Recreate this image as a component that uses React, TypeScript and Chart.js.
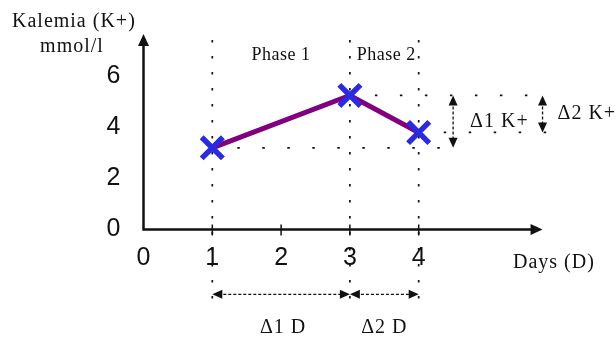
import React, { useEffect, useRef } from "react";
import { Chart, registerables } from "chart.js";

Chart.register(...registerables);

// ---- data ----
const days = [1, 3, 4];
const kalemia = [3.2, 5.25, 3.8];
const xTickValues = [0, 1, 2, 3, 4];
const yTickValues = [0, 2, 4, 6];
const phaseLabels = ["Phase 1", "Phase 2"];
const deltaKLabels = ["Δ1 K+", "Δ2 K+"];
const deltaDLabels = ["Δ1 D", "Δ2 D"];
const yAxisTitle = ["Kalemia (K+)", "mmol/l"];
const xAxisTitle = "Days (D)";

const SERIF = "'Liberation Serif', 'Times New Roman', serif";
const SANS = "'Liberation Sans', Arial, sans-serif";

function arrowHead(ctx: CanvasRenderingContext2D, x: number, y: number, dx: number, dy: number, len: number, half: number) {
  const bx = x - dx * len;
  const by = y - dy * len;
  const px = -dy;
  const py = dx;
  ctx.beginPath();
  ctx.moveTo(x, y);
  ctx.lineTo(bx + px * half, by + py * half);
  ctx.lineTo(bx - px * half, by - py * half);
  ctx.closePath();
  ctx.fill();
}

function dashedLine(ctx: CanvasRenderingContext2D, x1: number, y1: number, x2: number, y2: number, dash: number[], width: number) {
  ctx.save();
  ctx.setLineDash(dash);
  ctx.lineWidth = width;
  ctx.beginPath();
  ctx.moveTo(x1, y1);
  ctx.lineTo(x2, y2);
  ctx.stroke();
  ctx.restore();
}

function doubleArrow(ctx: CanvasRenderingContext2D, x1: number, y1: number, x2: number, y2: number) {
  const L = Math.hypot(x2 - x1, y2 - y1);
  const dx = (x2 - x1) / L;
  const dy = (y2 - y1) / L;
  const head = 10;
  dashedLine(ctx, x1 + dx * head * 0.6, y1 + dy * head * 0.6, x2 - dx * head * 0.6, y2 - dy * head * 0.6, [3, 2], 1.3);
  arrowHead(ctx, x2, y2, dx, dy, head, 4.5);
  arrowHead(ctx, x1, y1, -dx, -dy, head, 4.5);
}

const diagramPlugin = {
  id: "diagram",
  beforeDatasetsDraw(chart: any) {
    const ctx: CanvasRenderingContext2D = chart.ctx;
    const xs = chart.scales.x;
    const ys = chart.scales.y;
    const X = (v: number) => xs.getPixelForValue(v);
    const Y = (v: number) => ys.getPixelForValue(v);
    ctx.save();
    ctx.strokeStyle = "#111";
    ctx.fillStyle = "#111";

    // vertical dotted guides at each measured day
    days.forEach((d) => {
      dashedLine(ctx, X(d), Y(7.42), X(d), Y(-2.77), [2.5, 13.5], 1.7);
    });
    // horizontal dotted guides
    dashedLine(ctx, X(days[1]), Y(kalemia[1]), X(5.9), Y(kalemia[1]), [2.5, 22.5], 1.7);
    dashedLine(ctx, X(days[2]), Y(kalemia[2]), X(5.9), Y(kalemia[2]), [2.5, 22.5], 1.7);
    dashedLine(ctx, X(days[0]), Y(kalemia[0]), X(4.6), Y(kalemia[0]), [2.5, 22.5], 1.7);

    // axes with arrows
    const ox = X(0);
    const oy = Y(0);
    ctx.lineWidth = 2.5;
    ctx.beginPath();
    ctx.moveTo(ox, oy);
    ctx.lineTo(ox, 44);
    ctx.moveTo(ox - 1.2, oy);
    ctx.lineTo(X(5.65), oy);
    ctx.stroke();
    arrowHead(ctx, ox, 34, 0, -1, 12, 5.5);
    arrowHead(ctx, X(5.8), oy, 1, 0, 12, 5.5);

    // tick marks
    ctx.lineWidth = 1.5;
    xTickValues.slice(1).forEach((v) => {
      ctx.beginPath();
      ctx.moveTo(X(v), oy - 5);
      ctx.lineTo(X(v), oy + 6);
      ctx.stroke();
    });

    // delta K arrows
    doubleArrow(ctx, X(4.5), Y(kalemia[1]), X(4.5), Y(kalemia[0]));
    doubleArrow(ctx, X(5.8), Y(kalemia[1]), X(5.8), Y(kalemia[2]));
    // delta D arrows
    doubleArrow(ctx, X(days[0]), Y(-2.54), X(days[1]), Y(-2.54));
    doubleArrow(ctx, X(days[1]), Y(-2.54), X(days[2]), Y(-2.54));
    ctx.restore();
  },
  afterDatasetsDraw(chart: any) {
    const ctx: any = chart.ctx;
    const xs = chart.scales.x;
    const ys = chart.scales.y;
    const X = (v: number) => xs.getPixelForValue(v);
    const Y = (v: number) => ys.getPixelForValue(v);
    ctx.save();
    ctx.fillStyle = "#111";
    ctx.textBaseline = "middle";

    ctx.font = `20px ${SERIF}`;
    ctx.letterSpacing = "1px";
    ctx.textAlign = "left";
    ctx.fillText(yAxisTitle[0], 12, 22);
    ctx.textAlign = "center";
    ctx.fillText(yAxisTitle[1], 72, 47);

    ctx.textAlign = "left";
    ctx.fillText(xAxisTitle, 513, 263);

    ctx.fillText(deltaKLabels[0], X(4.5) + 17, (Y(kalemia[1]) + Y(kalemia[0])) / 2);
    ctx.fillText(deltaKLabels[1], X(5.8) + 15, (Y(kalemia[1]) + Y(kalemia[2])) / 2);

    ctx.textAlign = "center";
    ctx.fillText(deltaDLabels[0], (X(days[0]) + X(days[1])) / 2 + 2, 328);
    ctx.fillText(deltaDLabels[1], (X(days[1]) + X(days[2])) / 2, 328);

    ctx.font = `18px ${SERIF}`;
    ctx.letterSpacing = "0.5px";
    ctx.fillText(phaseLabels[0], (X(days[0]) + X(days[1])) / 2, 55);
    ctx.fillText(phaseLabels[1], (X(days[1]) + X(days[2])) / 2 + 2, 55);
    ctx.restore();
  },
};

export default function App() {
  const ref = useRef<HTMLCanvasElement | null>(null);
  useEffect(() => {
    document.body.style.margin = "0";
    const canvas = ref.current;
    if (!canvas) return;
    const chart = new Chart(canvas, {
      type: "line",
      data: {
        datasets: [
          {
            data: days.map((d, i) => ({ x: d, y: kalemia[i] })),
            borderColor: "#800080",
            borderWidth: 5,
            pointStyle: "crossRot",
            pointRadius: 15,
            pointBorderWidth: 5.5,
            pointBorderColor: "#2b2bdd",
            pointBackgroundColor: "#2b2bdd",
            tension: 0,
            clip: false,
          },
        ],
      },
      options: {
        animation: false,
        responsive: true,
        maintainAspectRatio: false,
        events: [],
        layout: { padding: { left: 0, right: 59.7, top: 30.75, bottom: 0 } },
        plugins: { legend: { display: false }, tooltip: { enabled: false } },
        scales: {
          x: {
            type: "linear",
            min: 0,
            max: 6,
            grid: { display: false, drawTicks: false },
            border: { display: false },
            afterFit: (s: any) => {
              s.height = 108.5;
            },
            afterBuildTicks: (s: any) => {
              s.ticks = xTickValues.map((v) => ({ value: v }));
            },
            ticks: {
              padding: 14,
              maxRotation: 0,
              autoSkip: false,
              color: "#111",
              font: { family: SANS, size: 25 },
            },
          },
          y: {
            type: "linear",
            min: 0,
            max: 7.5,
            grid: { display: false, drawTicks: false },
            border: { display: false },
            afterFit: (s: any) => {
              s.width = 143.5;
            },
            afterBuildTicks: (s: any) => {
              s.ticks = yTickValues.map((v) => ({ value: v }));
            },
            ticks: {
              padding: 23,
              color: "#111",
              font: { family: SANS, size: 25 },
            },
          },
        },
      },
      plugins: [diagramPlugin],
    });
    return () => chart.destroy();
  }, []);
  return (
    <div style={{ position: "absolute", left: 0, top: 0, width: 616, height: 338, background: "#fff" }}>
      <canvas ref={ref} />
    </div>
  );
}
